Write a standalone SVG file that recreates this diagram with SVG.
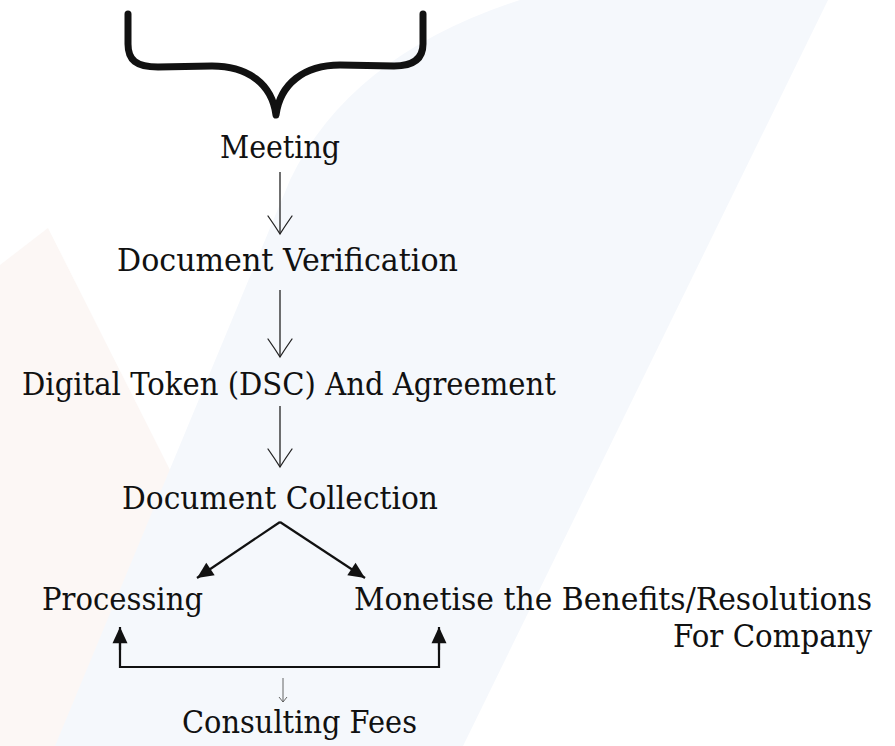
<svg xmlns="http://www.w3.org/2000/svg" width="895" height="746" viewBox="0 0 895 746">
<style>
  .t { font-family: "DejaVu Serif", "Liberation Serif", serif; font-size: 31px; fill: #111; }
  .thin { fill: none; stroke: #222; stroke-width: 1.3; }
  .bold { fill: none; stroke: #111; stroke-width: 2.2; }
</style>
<defs>
  <marker id="openV" markerUnits="userSpaceOnUse" markerWidth="22" markerHeight="28" viewBox="-20 -14 22 28" refX="0" refY="0" orient="auto">
    <path d="M -18,-12 Q -8,-5 0,0 Q -8,5 -18,12" fill="none" stroke="#222" stroke-width="1.3" stroke-linecap="round"/>
  </marker>
  <marker id="smallV" markerUnits="userSpaceOnUse" markerWidth="12" markerHeight="12" viewBox="-6 -6 12 12" refX="0" refY="0" orient="auto">
    <path d="M -5,-4 L 0,0 L -5,4" fill="none" stroke="#555" stroke-width="0.9"/>
  </marker>
  <marker id="solid" markerUnits="userSpaceOnUse" markerWidth="20" markerHeight="20" viewBox="-14 -8 16 16" refX="0" refY="0" orient="auto">
    <path d="M -13,-6 L 0,0 L -13,6 Z" fill="#111"/>
  </marker>
</defs>

<g id="background">
  <rect x="0" y="0" width="895" height="746" fill="#ffffff"/>
  <path d="M 0,265 L 48,228 L 170,470 L 60,746 L 0,746 Z" fill="#fcf7f5"/>
  <path d="M 520,0 L 828,0 L 463,746 L 55,746 L 290,180 Q 350,55 520,0 Z" fill="#f5f8fc"/>
</g>

<g id="connectors">
  <path id="brace" d="M 128,14 L 128,44 C 128,60 136,67 158,67 L 212,66 C 248,66 272,84 276,115 C 280,84 304,65 340,65 L 394,66 C 414,66 423,58 423,44 L 423,14" fill="none" stroke="#111" stroke-width="7" stroke-linecap="round" stroke-linejoin="round"/>
  <line class="thin" x1="280" y1="172" x2="280" y2="234" marker-end="url(#openV)"/>
  <line class="thin" x1="280" y1="290" x2="280" y2="357" marker-end="url(#openV)"/>
  <line class="thin" x1="280" y1="406" x2="280" y2="467" marker-end="url(#openV)"/>
  <line class="bold" x1="280" y1="522" x2="197" y2="578" marker-end="url(#solid)"/>
  <line class="bold" x1="280" y1="522" x2="365" y2="578" marker-end="url(#solid)"/>
  <path class="bold" d="M 120,630 L 120,667 L 439,667 L 439,630" />
  <line class="bold" x1="120" y1="650" x2="120" y2="627" marker-end="url(#solid)"/>
  <line class="bold" x1="439" y1="650" x2="439" y2="627" marker-end="url(#solid)"/>
  <line x1="283" y1="678" x2="283" y2="702" stroke="#555" stroke-width="0.9" marker-end="url(#smallV)"/>
</g>

<g id="n-meeting"><text class="t" x="220" y="158" textLength="120" lengthAdjust="spacingAndGlyphs">Meeting</text></g>
<g id="n-docver"><text class="t" x="117" y="271" textLength="341" lengthAdjust="spacingAndGlyphs">Document Verification</text></g>
<g id="n-dsc"><text class="t" x="22" y="395" textLength="534" lengthAdjust="spacingAndGlyphs">Digital Token (DSC) And Agreement</text></g>
<g id="n-doccol"><text class="t" x="122" y="509" textLength="316" lengthAdjust="spacingAndGlyphs">Document Collection</text></g>
<g id="n-processing"><text class="t" x="42" y="610" textLength="161" lengthAdjust="spacingAndGlyphs">Processing</text></g>
<g id="n-monetise">
  <text class="t" x="354" y="610" textLength="518" lengthAdjust="spacingAndGlyphs">Monetise the Benefits/Resolutions</text>
  <text class="t" x="673" y="647" textLength="199" lengthAdjust="spacingAndGlyphs">For Company</text>
</g>
<g id="n-fees"><text class="t" x="182" y="733" textLength="235" lengthAdjust="spacingAndGlyphs">Consulting Fees</text></g>
</svg>
